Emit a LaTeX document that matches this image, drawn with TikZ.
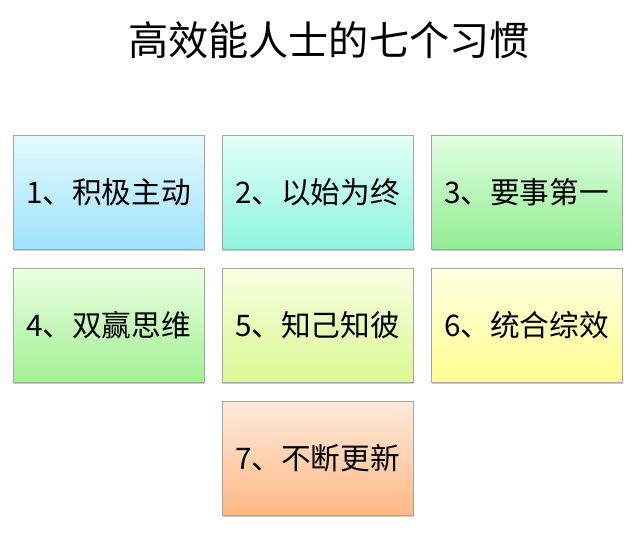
\documentclass[tikz,border=0pt]{standalone}
\usepackage{fontspec}
\setmainfont{Noto Sans CJK SC}
\usetikzlibrary{shadows}
\definecolor{bordergray}{HTML}{A6A6A6}
\definecolor{c1t}{HTML}{E4F9FF}\definecolor{c1b}{HTML}{9EE3FD}
\definecolor{c2t}{HTML}{E2FFF8}\definecolor{c2b}{HTML}{8FF5DF}
\definecolor{c3t}{HTML}{E2FFE2}\definecolor{c3b}{HTML}{92EE92}
\definecolor{c4t}{HTML}{EAFFE2}\definecolor{c4b}{HTML}{A2F092}
\definecolor{c5t}{HTML}{F8FFE2}\definecolor{c5b}{HTML}{DAF892}
\definecolor{c6t}{HTML}{FFFFE4}\definecolor{c6b}{HTML}{FFFD8F}
\definecolor{c7t}{HTML}{FFEADC}\definecolor{c7b}{HTML}{FFB883}
\tikzset{
  habit/.style={rectangle, draw=bordergray, line width=0.7pt,
    minimum width=191pt, minimum height=114pt, inner sep=0pt,
    font=\fontsize{29.7}{34}\selectfont, text=black,
    drop shadow={shadow xshift=1.2pt, shadow yshift=-1.6pt, opacity=0.35, fill=black!60}},
  titlestyle/.style={font=\fontsize{40.2}{46}\selectfont, text=black, inner sep=0pt}
}
\begin{document}
\begin{tikzpicture}[x=1pt,y=1pt]
\useasboundingbox (0,0) rectangle (635,-543);
\node[titlestyle] (title) at (329,-40) {高效能人士的七个习惯};
\node[habit, top color=c1t, bottom color=c1b] (h1) at (108.5,-192) {1、积极主动};
\node[habit, top color=c2t, bottom color=c2b] (h2) at (317.5,-192) {2、以始为终};
\node[habit, top color=c3t, bottom color=c3b] (h3) at (526.5,-192) {3、要事第一};
\node[habit, top color=c4t, bottom color=c4b] (h4) at (108.5,-325) {4、双赢思维};
\node[habit, top color=c5t, bottom color=c5b] (h5) at (317.5,-325) {5、知己知彼};
\node[habit, top color=c6t, bottom color=c6b] (h6) at (526.5,-325) {6、统合综效};
\node[habit, top color=c7t, bottom color=c7b] (h7) at (317.5,-458) {7、不断更新};
\end{tikzpicture}
\end{document}
